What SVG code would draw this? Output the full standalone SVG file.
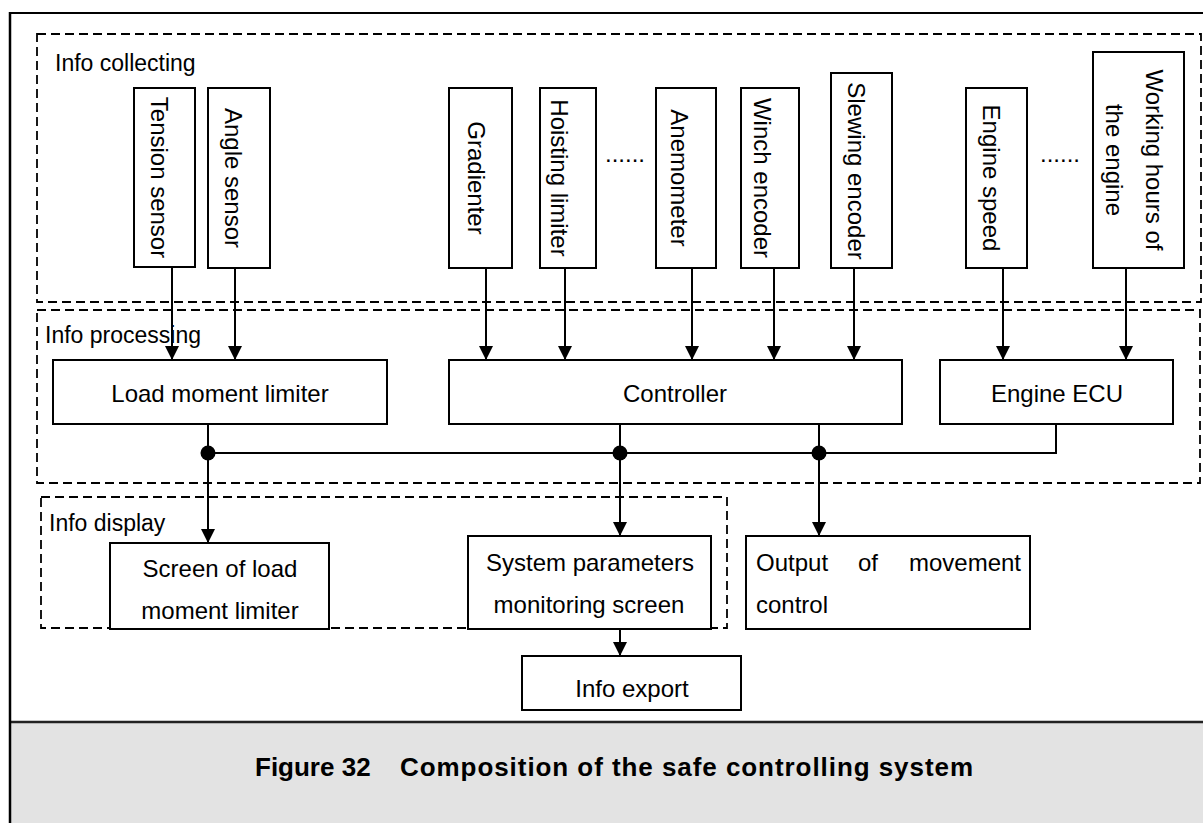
<svg xmlns="http://www.w3.org/2000/svg" width="1203" height="823" viewBox="0 0 1203 823">
<style>
.box{fill:#fff;stroke:#000;stroke-width:2}
.grp{fill:none;stroke:#000;stroke-width:1.8;stroke-dasharray:9 5}
.t{font-family:"Liberation Sans",Arial,sans-serif;font-size:24px;fill:#000}
.lbl{font-family:"Liberation Sans",Arial,sans-serif;font-size:23px;fill:#000}
.m{text-anchor:middle}
.cap{font-family:"Liberation Sans",Arial,sans-serif;font-size:26px;font-weight:bold;fill:#000}
.ln{fill:none;stroke:#000;stroke-width:2}
.ar{fill:none;stroke:#000;stroke-width:2;marker-end:url(#arr)}
</style>
<defs>
<marker id="arr" viewBox="0 0 14 14" refX="14" refY="7" markerWidth="14" markerHeight="14" markerUnits="userSpaceOnUse" orient="auto">
<path d="M0,0 L14,7 L0,14 Z" fill="#000"/>
</marker>
</defs>
<rect x="0" y="0" width="1203" height="823" fill="#fff"/>
<!-- frame and caption band -->
<rect x="10" y="722" width="1200" height="110" fill="#e3e3e3"/>
<line x1="10" y1="722" x2="1203" y2="722" stroke="#222" stroke-width="2.5"/>
<line x1="10" y1="13" x2="1203" y2="13" stroke="#000" stroke-width="2"/>
<line x1="10" y1="12" x2="10" y2="823" stroke="#000" stroke-width="2.5"/>
<g id="caption">
<text class="cap" x="255" y="776">Figure 32</text>
<text class="cap" x="400" y="776" textLength="573" lengthAdjust="spacing">Composition of the safe controlling system</text>
</g>
<!-- group regions -->
<g id="info-collecting">
<rect class="grp" x="37" y="34" width="1164" height="268"/>
<text class="lbl" x="55" y="71">Info collecting</text>
</g>
<g id="info-processing">
<rect class="grp" x="37" y="310" width="1163" height="173"/>
<text class="lbl" x="45" y="343">Info processing</text>
</g>
<g id="info-display">
<rect class="grp" x="41" y="497" width="686" height="131"/>
<text class="lbl" x="49" y="531">Info display</text>
</g>
<!-- connectors -->
<g id="connectors">
<line class="ar" x1="172" y1="268" x2="172" y2="360"/>
<line class="ar" x1="235" y1="268" x2="235" y2="360"/>
<line class="ar" x1="486" y1="268" x2="486" y2="360"/>
<line class="ar" x1="565" y1="268" x2="565" y2="360"/>
<line class="ar" x1="692" y1="268" x2="692" y2="360"/>
<line class="ar" x1="774" y1="268" x2="774" y2="360"/>
<line class="ar" x1="854" y1="268" x2="854" y2="360"/>
<line class="ar" x1="1003" y1="268" x2="1003" y2="360"/>
<line class="ar" x1="1126" y1="268" x2="1126" y2="360"/>
<polyline class="ln" points="208,453 1056,453 1056,424"/>
<line class="ar" x1="208" y1="424" x2="208" y2="543"/>
<line class="ar" x1="620" y1="424" x2="620" y2="536"/>
<line class="ar" x1="819" y1="424" x2="819" y2="536"/>
<line class="ar" x1="620" y1="616" x2="620" y2="656"/>
<circle cx="208" cy="453" r="7.5" fill="#000"/>
<circle cx="620" cy="453" r="7.5" fill="#000"/>
<circle cx="819" cy="453" r="7.5" fill="#000"/>
</g>
<!-- sensors -->
<g id="tension-sensor">
<rect class="box" x="134" y="88" width="61" height="179"/>
<text class="t m" transform="translate(159.7,177.5) rotate(90)" y="8.6">Tension sensor</text>
</g>
<g id="angle-sensor">
<rect class="box" x="208" y="88" width="62" height="180"/>
<text class="t m" transform="translate(234,178) rotate(90)" y="8.6">Angle sensor</text>
</g>
<g id="gradienter">
<rect class="box" x="449" y="88" width="63" height="180"/>
<text class="t m" transform="translate(476.4,178) rotate(90)" y="8.6">Gradienter</text>
</g>
<g id="hoisting-limiter">
<rect class="box" x="540" y="88" width="56" height="180"/>
<text class="t m" transform="translate(559.7,178) rotate(90)" y="8.6">Hoisting limiter</text>
</g>
<text class="t" x="605" y="162">......</text>
<g id="anemometer">
<rect class="box" x="656" y="88" width="60" height="180"/>
<text class="t m" transform="translate(679.7,178) rotate(90)" y="8.6">Anemometer</text>
</g>
<g id="winch-encoder">
<rect class="box" x="741" y="88" width="58" height="180"/>
<text class="t m" transform="translate(763,178) rotate(90)" y="8.6">Winch encoder</text>
</g>
<g id="slewing-encoder">
<rect class="box" x="831" y="73" width="61" height="195"/>
<text class="t m" transform="translate(856.4,171) rotate(90)" y="8.6">Slewing encoder</text>
</g>
<g id="engine-speed">
<rect class="box" x="966" y="88" width="61" height="180"/>
<text class="t m" transform="translate(991.4,178) rotate(90)" y="8.6">Engine speed</text>
</g>
<text class="t" x="1040" y="162">......</text>
<g id="working-hours">
<rect class="box" x="1093" y="52" width="91" height="216"/>
<text class="t m" transform="translate(1154.7,160) rotate(90)" y="8.6">Working hours of</text>
<text class="t m" transform="translate(1114.7,160) rotate(90)" y="8.6">the engine</text>
</g>
<!-- processing -->
<g id="load-moment-limiter">
<rect class="box" x="53" y="360" width="334" height="64"/>
<text class="t m" x="220" y="402">Load moment limiter</text>
</g>
<g id="controller">
<rect class="box" x="449" y="360" width="453" height="64"/>
<text class="t m" x="675" y="402">Controller</text>
</g>
<g id="engine-ecu">
<rect class="box" x="940" y="360" width="233" height="64"/>
<text class="t m" x="1057" y="402">Engine ECU</text>
</g>
<!-- display / output -->
<g id="screen-lml">
<rect class="box" x="110" y="543" width="219" height="86"/>
<text class="t m" x="220" y="577">Screen of load</text>
<text class="t m" x="220" y="619">moment limiter</text>
</g>
<g id="system-params">
<rect class="box" x="468" y="536" width="243" height="93"/>
<text class="t m" x="590" y="571">System parameters</text>
<text class="t m" x="589" y="613">monitoring screen</text>
</g>
<g id="movement-output">
<rect class="box" x="746" y="536" width="284" height="93"/>
<text class="t" y="571"><tspan x="756">Output</tspan><tspan x="858">of</tspan><tspan x="1021" text-anchor="end">movement</tspan></text>
<text class="t" x="756" y="613">control</text>
</g>
<g id="info-export">
<rect class="box" x="522" y="656" width="219" height="54"/>
<text class="t m" x="632" y="697">Info export</text>
</g>
</svg>
